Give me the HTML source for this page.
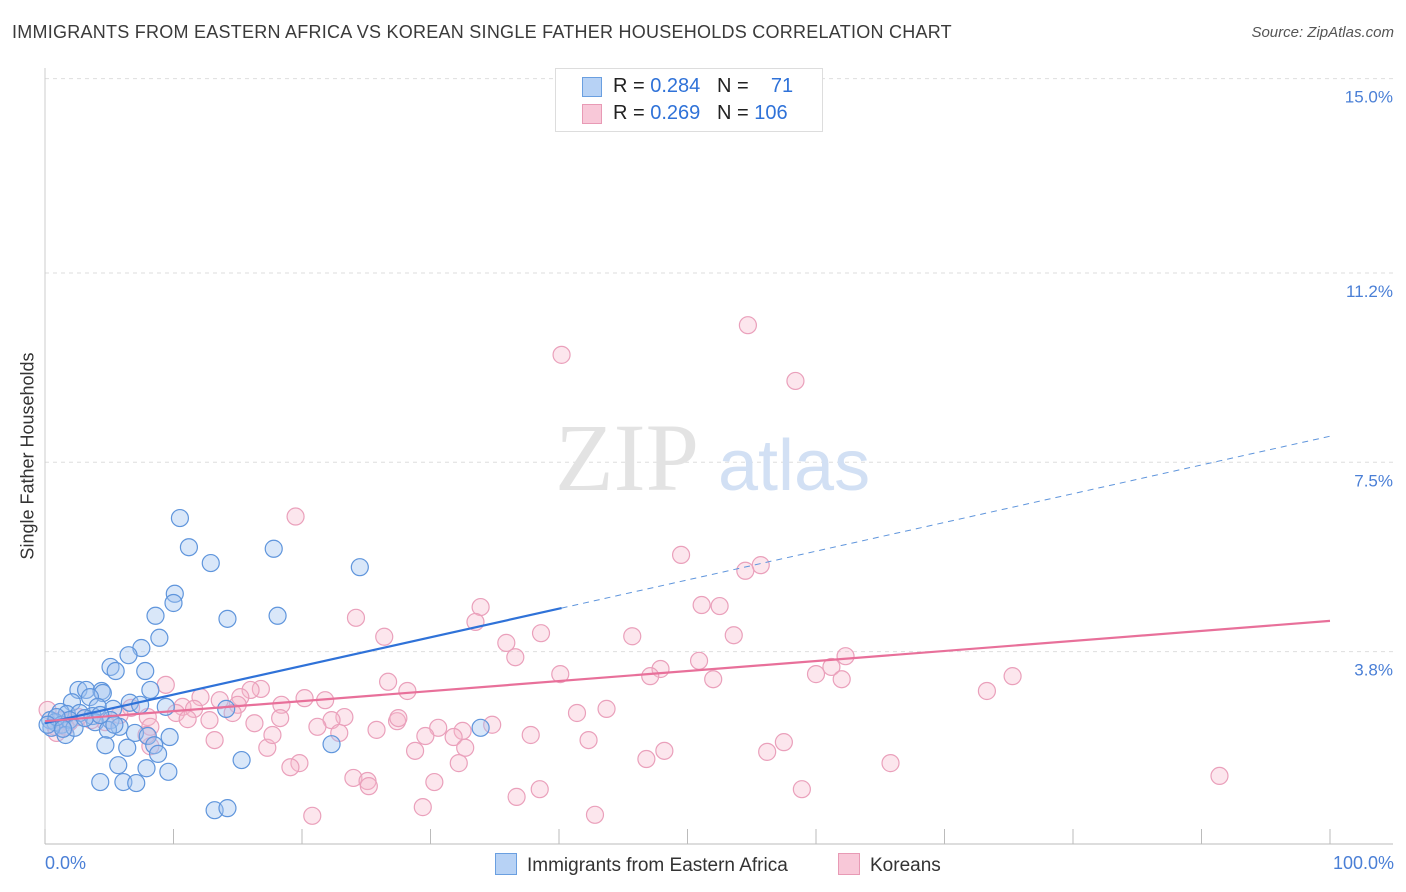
<!DOCTYPE html>
<html><head><meta charset="utf-8"><style>
body{margin:0;background:#fff;font-family:"Liberation Sans",sans-serif;}
#wrap{position:relative;width:1406px;height:892px;overflow:hidden;}
</style></head><body>
<div id="wrap">
<div style="position:absolute;left:12px;top:22px;font-size:18px;letter-spacing:0.25px;color:#3a3a3a;">IMMIGRANTS FROM EASTERN AFRICA VS KOREAN SINGLE FATHER HOUSEHOLDS CORRELATION CHART</div>
<div style="position:absolute;right:12px;top:24px;font-size:15px;color:#555;font-style:italic;">Source: ZipAtlas.com</div>
<svg id="svg" width="1406" height="892" style="position:absolute;left:0;top:0"></svg>
</div>
<script>
const blueX=[10.5,11.2,12.9,17.8,24.5,10.1,10.0,8.6,14.2,18.1,8.9,7.5,6.5,5.1,5.5,7.8,8.2,2.6,3.2,4.4,4.5,2.1,3.5,6.6,7.4,9.4,14.1,5.3,4.1,1.2,1.7,2.7,3.7,0.4,0.8,1.3,1.9,3.9,5.1,5.8,7.0,8.0,9.7,4.9,1.6,0.5,4.7,6.4,8.5,8.8,15.3,5.7,7.9,9.6,4.3,6.1,7.1,13.2,14.2,22.3,33.9,0.9,0.2,2.3,3.1,5.4,1.4,4.3];
const blueY=[6.41,5.84,5.53,5.81,5.45,4.93,4.75,4.50,4.44,4.50,4.07,3.87,3.73,3.50,3.42,3.42,3.05,3.05,3.05,3.03,2.99,2.81,2.91,2.80,2.76,2.72,2.68,2.68,2.72,2.62,2.58,2.60,2.54,2.46,2.42,2.37,2.46,2.42,2.46,2.33,2.21,2.15,2.13,2.27,2.17,2.31,1.97,1.92,1.97,1.80,1.68,1.58,1.52,1.45,1.25,1.25,1.23,0.70,0.74,1.99,2.31,2.52,2.37,2.31,2.50,2.37,2.29,2.56];
const pinkX=[54.7,40.2,58.4,19.5,49.5,55.7,54.5,33.9,51.1,52.5,24.2,33.5,38.6,26.4,45.7,53.6,35.9,36.6,62.3,50.9,47.9,40.1,47.1,61.2,60.0,62.0,52.0,75.3,73.3,9.4,26.7,16.8,28.2,16.0,15.2,13.6,20.2,21.8,12.1,10.7,11.6,18.4,15.0,10.2,11.1,12.8,14.6,23.3,27.4,22.3,27.5,16.3,18.3,21.2,41.4,43.7,34.8,30.6,32.5,22.9,25.8,6.7,8.0,5.8,4.7,8.2,3.6,2.6,1.3,0.8,13.2,17.3,17.7,29.6,31.8,37.8,42.3,28.8,32.7,48.2,57.5,56.2,46.8,32.2,19.8,19.1,24.0,25.1,25.2,30.3,38.5,36.7,58.9,65.8,91.4,29.4,42.8,20.8,8.2,7.9,0.2,0.9,1.9,1.6];
const pinkY=[10.18,9.60,9.09,6.44,5.69,5.49,5.38,4.67,4.71,4.69,4.46,4.38,4.16,4.09,4.10,4.12,3.97,3.69,3.71,3.62,3.46,3.36,3.32,3.50,3.36,3.26,3.26,3.32,3.03,3.15,3.21,3.07,3.03,3.05,2.91,2.85,2.89,2.85,2.91,2.72,2.68,2.76,2.76,2.60,2.48,2.46,2.60,2.52,2.44,2.46,2.50,2.40,2.50,2.33,2.60,2.68,2.37,2.31,2.25,2.21,2.27,2.70,2.52,2.56,2.42,2.33,2.46,2.52,2.46,2.33,2.07,1.92,2.17,2.15,2.13,2.17,2.07,1.86,1.92,1.86,2.03,1.84,1.70,1.62,1.62,1.54,1.33,1.27,1.17,1.25,1.11,0.96,1.11,1.62,1.37,0.76,0.61,0.59,1.95,2.17,2.66,2.21,2.42,2.33];
const blueTrendX=[0,40.2,100];
const blueTrendY=[2.40,4.65,8.01];
const pinkTrendX=[0,100];
const pinkTrendY=[2.44,4.40];
const yTicks=[15.0,11.2,7.5,3.8];
const yTickLabels=["15.0%","11.2%","7.5%","3.8%"];
const xTicks=[0,10,20,30,40,50,60,70,80,90,100];

const X=v=>45+v*12.85;
const Y=v=>846-v*51.16;
const svg=document.getElementById('svg');
const NS='http://www.w3.org/2000/svg';
function mk(t,a){const e=document.createElementNS(NS,t);for(const k in a)e.setAttribute(k,a[k]);svg.appendChild(e);return e;}

yTicks.forEach((v,i)=>{
 const g=mk('line',{x1:45,x2:1393,y1:Y(v),y2:Y(v),stroke:'#dedede','stroke-dasharray':'4,4'});
 
 
 const t=mk('text',{x:1393,y:Y(v)+24,'text-anchor':'end','font-size':'17',fill:'#4a7fd6','font-family':'Liberation Sans'});
 t.textContent=yTickLabels[i];
 
 
});
const ax=mk('line',{x1:45,x2:1393,y1:844,y2:844,stroke:'#bbb'});


const ay=mk('line',{x1:45,x2:45,y1:68,y2:844,stroke:'#ccc'});


xTicks.forEach(v=>{
 const l=mk('line',{x1:X(v),x2:X(v),y1:829,y2:844,stroke:'#bbb'});
 
 
});
const w1=mk('text',{x:555,y:490,'font-size':'96','font-family':'Liberation Serif',fill:'#e3e3e3'});
w1.textContent='ZIP';


const w2=mk('text',{x:718,y:490,'font-size':'72','font-family':'Liberation Sans',fill:'#d2e0f4'});
w2.textContent='atlas';



pinkX.forEach((v,i)=>{
 const c=mk('circle',{cx:X(v),cy:Y(pinkY[i]),r:8.5,fill:'rgba(246,182,204,0.35)',stroke:'#eaa0bb','stroke-width':1.2});
 
 
});
blueX.forEach((v,i)=>{
 const c=mk('circle',{cx:X(v),cy:Y(blueY[i]),r:8.5,fill:'rgba(160,196,240,0.4)',stroke:'#5f95dc','stroke-width':1.2});
 
 
});
const bt1=mk('line',{x1:X(blueTrendX[0]),y1:Y(blueTrendY[0]),x2:X(blueTrendX[1]),y2:Y(blueTrendY[1]),stroke:'#2f72d8','stroke-width':2.2});


const bt2=mk('line',{x1:X(blueTrendX[1]),y1:Y(blueTrendY[1]),x2:X(blueTrendX[2]),y2:Y(blueTrendY[2]),stroke:'#5f95dc','stroke-width':1,'stroke-dasharray':'6,5'});


const pt=mk('line',{x1:X(pinkTrendX[0]),y1:Y(pinkTrendY[0]),x2:X(pinkTrendX[1]),y2:Y(pinkTrendY[1]),stroke:'#e8709a','stroke-width':2.2});


</script>
<div style="position:absolute;left:28px;top:456px;transform:translate(-50%,-50%) rotate(-90deg);font-size:18px;color:#333;white-space:nowrap;">Single Father Households</div>
<div style="position:absolute;left:45px;top:853px;font-size:18px;color:#4a7fd6;">0.0%</div>
<div style="position:absolute;right:12px;top:853px;font-size:18px;color:#4a7fd6;">100.0%</div>
<div style="position:absolute;left:555px;top:68px;width:266px;height:62px;border:1px solid #ddd;background:#fff;font-size:20px;color:#222;">
 <div style="position:absolute;left:26px;top:8px;width:18px;height:18px;background:#b7d2f5;border:1px solid #6a9fe0;"></div>
 <div style="position:absolute;left:57px;top:6px;">R = <span style="color:#2f72d8">0.284</span>&nbsp;&nbsp;&nbsp;N = &nbsp;&nbsp;&nbsp;<span style="color:#2f72d8">71</span></div>
 <div style="position:absolute;left:26px;top:35px;width:18px;height:18px;background:#f8c8d8;border:1px solid #e89ab5;"></div>
 <div style="position:absolute;left:57px;top:33px;">R = <span style="color:#2f72d8">0.269</span>&nbsp;&nbsp;&nbsp;N = <span style="color:#2f72d8">106</span></div>
</div>
<div style="position:absolute;left:495px;top:853px;font-size:19px;color:#333;">
 <span style="display:inline-block;width:20px;height:20px;background:#b7d2f5;border:1px solid #6a9fe0;vertical-align:-4px;margin-right:10px;"></span>Immigrants from Eastern Africa</div>
<div style="position:absolute;left:838px;top:853px;font-size:19px;color:#333;">
 <span style="display:inline-block;width:20px;height:20px;background:#f8c8d8;border:1px solid #e89ab5;vertical-align:-4px;margin-right:10px;"></span>Koreans</div>
</body></html>
